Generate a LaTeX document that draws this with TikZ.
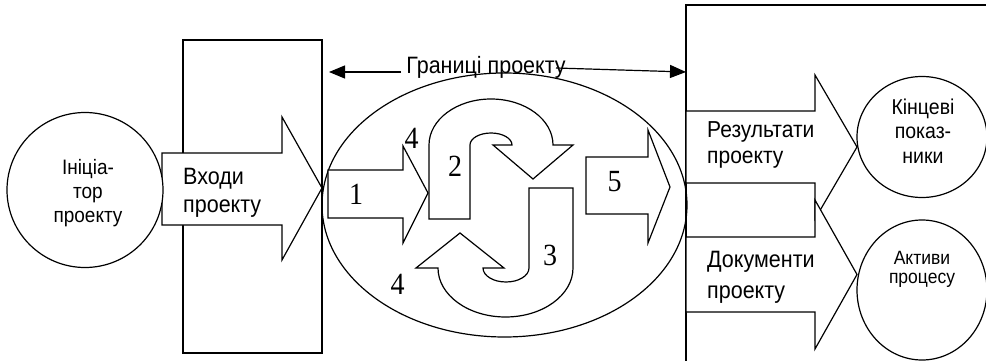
\documentclass[tikz,border=0pt]{standalone}
\usepackage{fontspec}
\setmainfont{Liberation Sans}
\newfontfamily\numfont{Liberation Serif}
\usetikzlibrary{arrows.meta,shapes.geometric}

\begin{document}
\begin{tikzpicture}[x=1pt,y=-1pt,
  outline/.style={line width=1.2pt, draw=black, fill=white, line join=miter},
  frame/.style={line width=1.2pt, draw=black},
  oval/.style={ellipse, line width=1.2pt, draw=black, fill=white, inner sep=0pt},
  tall/.style={yscale=1.1},
  lbl/.style={tall, inner sep=0pt, align=left, anchor=base west},
  clbl/.style={tall, inner sep=0pt, align=center, anchor=base},
  num/.style={tall, inner sep=0pt, font=\numfont\fontsize{28}{28}\selectfont},
  bound/.style={line width=1.2pt, -{Triangle[length=16pt,width=13pt]}}
]
\useasboundingbox (0,0) rectangle (986,361);
\clip (0,0) rectangle (986,361);

% left frame: project inputs
\draw[frame] (183,40) rectangle (322,353);
\draw[outline] (162,153) -- (282,153) -- (282,117) -- (322,188) -- (282,260)
  -- (282,225) -- (162,225) -- cycle;
% (base anchor of a multi-line node sits on its last line)
\node[lbl, font=\fontsize{21.5}{25}\selectfont] (inputs) at (183,212) {Входи\\проекту};

% initiator
\node[oval, minimum width=156pt, minimum height=155pt] (init) at (85,190) {};
\node[clbl, font=\fontsize{19}{21.5}\selectfont] (inittxt) at (88,222) {Ініціа-\\тор\\проекту};

% project boundary (process oval)
\draw[line width=1.2pt] (504.5,205) ellipse [x radius=182.5, y radius=132];

% straight process arrows
\draw[outline] (328,170) -- (403,170) -- (403,146) -- (428,193) -- (403,243)
  -- (403,218) -- (328,218) -- cycle;
\draw[outline] (586,157) -- (648,157) -- (648,130) -- (670,187) -- (648,243)
  -- (648,214) -- (586,214) -- cycle;

% upper U-turn arrow
\draw[outline] (429,219) -- (429,145)
  arc[start angle=180, end angle=360, x radius=62, y radius=46]
  -- (573,145) -- (533,179) -- (493,145) -- (512,145)
  arc[start angle=0, end angle=-180, x radius=21, y radius=12]
  -- (470,219) -- cycle;

% lower U-turn arrow
\draw[outline] (529,188) -- (573,188) -- (573,268)
  arc[start angle=0, end angle=180, x radius=67.5, y radius=49]
  -- (416,268) -- (460,233) -- (504,268) -- (483,268)
  arc[start angle=180, end angle=0, x radius=23, y radius=14]
  -- cycle;

% step numbers
\node[num] (n1) at (356,194) {1};
\node[num] (n4a) at (411.5,138) {4};
\node[num] (n2) at (455,166) {2};
\node[num] (n3) at (550,255) {3};
\node[num] (n4b) at (397.5,284) {4};
\node[num] (n5) at (614.5,182) {5};

% right frame: project outputs
\draw[frame] (686,5) -- (996,5) -- (996,370) -- (686,370) -- cycle;
\draw[outline] (686,111) -- (815,111) -- (815,75) -- (857,147) -- (815,219)
  -- (815,183) -- (686,183) -- cycle;
\draw[outline] (686,237) -- (815,237) -- (815,200) -- (857,274.5) -- (815,349)
  -- (815,312) -- (686,312) -- cycle;
\node[lbl, font=\fontsize{21}{23}\selectfont] (results) at (707,163) {Результати\\проекту};
\node[lbl, font=\fontsize{21.5}{27.5}\selectfont] (docs) at (707,298) {Документи\\проекту};

% final outcomes
\node[oval, minimum width=130pt, minimum height=121pt] (final) at (922,137) {};
\node[clbl, font=\fontsize{19.5}{22}\selectfont] (finaltxt) at (923,163) {Кінцеві\\показ-\\ники};
\node[oval, minimum width=130pt, minimum height=140pt] (assets) at (922,290) {};
\node[clbl, font=\fontsize{17.5}{17}\selectfont] (assetstxt) at (922,283.5) {Активи\\процесу};

% project boundaries
\node[tall, inner sep=0pt, anchor=base, font=\fontsize{21.5}{26}\selectfont] (bounds) at (486,74) {Границі проекту};
\coordinate (bL) at (329,72);
\coordinate (bR) at (686,72);
\draw[bound] (bounds.west |- 0,72) ++(-5,0) -- (bL);
\draw[bound] (556,68) -- (bR);
\end{tikzpicture}
\end{document}
